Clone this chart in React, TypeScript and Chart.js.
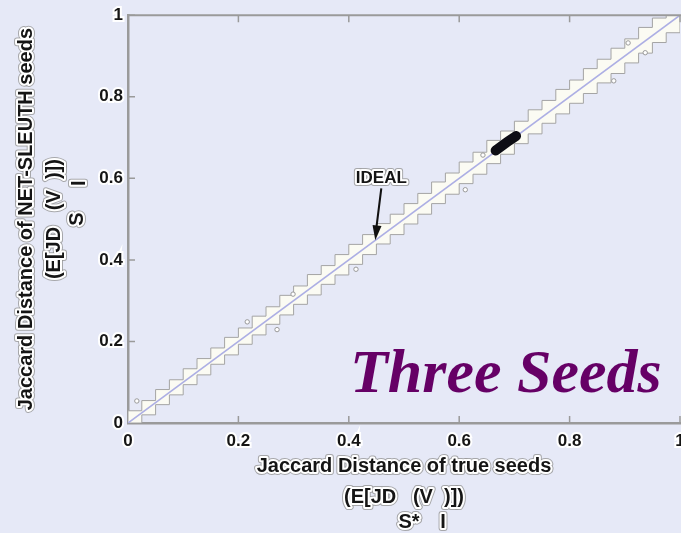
import { useEffect, useRef } from 'react';
import { Chart, registerables } from 'chart.js';

Chart.register(...registerables);

// ---- data ----
const tickLabels = ['0', '0.2', '0.4', '0.6', '0.8', '1'];

const bandX = [0, 0.025, 0.05, 0.075, 0.1, 0.125, 0.15, 0.175, 0.2, 0.225, 0.25, 0.275, 0.3, 0.325, 0.35, 0.375, 0.4, 0.425, 0.45, 0.475, 0.5, 0.525, 0.55, 0.575, 0.6, 0.625, 0.65, 0.675, 0.7, 0.725, 0.75, 0.775, 0.8, 0.825, 0.85, 0.875, 0.9, 0.925, 0.95, 0.975, 1];
const bandUpper = [0.003, 0.03, 0.055, 0.082, 0.106, 0.133, 0.158, 0.184, 0.21, 0.233, 0.262, 0.285, 0.313, 0.336, 0.364, 0.386, 0.413, 0.438, 0.462, 0.489, 0.512, 0.538, 0.563, 0.591, 0.613, 0.64, 0.664, 0.693, 0.716, 0.74, 0.768, 0.791, 0.818, 0.841, 0.869, 0.892, 0.919, 0.942, 0.97, 0.993, 1.02];
const bandLower = [0, 0.02, 0.045, 0.069, 0.094, 0.118, 0.144, 0.167, 0.193, 0.216, 0.242, 0.265, 0.291, 0.314, 0.34, 0.363, 0.389, 0.413, 0.439, 0.462, 0.488, 0.512, 0.538, 0.561, 0.587, 0.61, 0.636, 0.659, 0.685, 0.709, 0.735, 0.758, 0.784, 0.808, 0.834, 0.857, 0.883, 0.907, 0.933, 0.957, 0.983];

const idealX = [0, 1];
const idealY = [0, 1];

const clusterX = [0.666, 0.674, 0.682, 0.69, 0.698, 0.703];
const clusterY = [0.668, 0.676, 0.684, 0.692, 0.699, 0.704];

const outlierX = [0.016, 0.216, 0.27, 0.299, 0.413, 0.611, 0.643, 0.88, 0.906, 0.937];
const outlierY = [0.054, 0.248, 0.229, 0.316, 0.377, 0.572, 0.657, 0.839, 0.932, 0.908];

const xTitle = ['Jaccard Distance of true seeds', '(E[JD   (V  )])'];
const xSub = ['S*', 'I'];
const yTitle = ['Jaccard Distance of NET-SLEUTH seeds', '(E[JD   (V  )])'];
const ySub = ['S', 'I'];
const idealLabel = 'IDEAL';
const idealPoint = 0.448;
const bigTitle = 'Three Seeds';

// ---- styles ----
const BG = '#e6e9f7';
const AXIS = '#9a9a9a';
const SANS = '"Liberation Sans", Arial, sans-serif';

function haloText(ctx: CanvasRenderingContext2D, text: string, x: number, y: number) {
  ctx.lineJoin = 'round';
  ctx.strokeStyle = 'rgba(150,150,150,0.8)';
  ctx.lineWidth = 6;
  ctx.strokeText(text, x, y);
  ctx.strokeStyle = '#ffffff';
  ctx.lineWidth = 4;
  ctx.strokeText(text, x, y);
  ctx.fillStyle = '#151515';
  ctx.fillText(text, x, y);
}

const overlay = {
  id: 'overlay',
  beforeDraw(chart: any) {
    const ctx = chart.ctx;
    ctx.save();
    ctx.fillStyle = BG;
    ctx.fillRect(0, 0, chart.width, chart.height);
    ctx.restore();
  },
  afterDraw(chart: any) {
    const ctx: CanvasRenderingContext2D = chart.ctx;
    const ca = chart.chartArea;
    const xs = chart.scales.x;
    const ys = chart.scales.y;
    ctx.save();
    // top frame line
    ctx.strokeStyle = AXIS;
    ctx.lineWidth = 2;
    ctx.beginPath();
    ctx.moveTo(ca.left, ca.top);
    ctx.lineTo(ca.right + 2, ca.top);
    ctx.stroke();
    // inward tick marks
    ctx.lineWidth = 1.5;
    ctx.beginPath();
    xs.ticks.forEach((t: any) => {
      if (t.value === 0) return;
      const px = xs.getPixelForValue(t.value);
      ctx.moveTo(px, ca.bottom);
      ctx.lineTo(px, ca.bottom - 7);
      ctx.moveTo(px, ca.top);
      ctx.lineTo(px, ca.top + 7);
    });
    ys.ticks.forEach((t: any) => {
      if (t.value === 0) return;
      const py = ys.getPixelForValue(t.value);
      ctx.moveTo(ca.left, py);
      ctx.lineTo(ca.left + 7, py);
    });
    ctx.stroke();

    // axis titles
    ctx.font = `bold 20px ${SANS}`;
    ctx.textAlign = 'center';
    ctx.textBaseline = 'middle';
    const cx = (ca.left + ca.right) / 2;
    const cy = (ca.top + ca.bottom) / 2;
    haloText(ctx, xTitle[0], cx, ca.bottom + 43);
    haloText(ctx, xTitle[1], cx, ca.bottom + 74);
    haloText(ctx, xSub[0], cx + 5, ca.bottom + 99);
    haloText(ctx, xSub[1], cx + 39, ca.bottom + 99);

    ctx.save();
    ctx.translate(26, cy);
    ctx.rotate(-Math.PI / 2);
    haloText(ctx, yTitle[0], 0, 0);
    ctx.restore();
    ctx.save();
    ctx.translate(54, cy);
    ctx.rotate(-Math.PI / 2);
    haloText(ctx, yTitle[1], 0, 0);
    ctx.restore();
    ctx.save();
    ctx.translate(77, cy);
    ctx.rotate(-Math.PI / 2);
    haloText(ctx, ySub[0], 0, 0);
    haloText(ctx, ySub[1], 36, 2);
    ctx.restore();

    // IDEAL annotation
    const tipX = xs.getPixelForValue(idealPoint);
    const tipY = ys.getPixelForValue(idealPoint);
    ctx.font = `bold 17px ${SANS}`;
    haloText(ctx, idealLabel, tipX + 6, tipY - 62);
    const tailX = tipX + 6;
    const tailY = tipY - 52;
    ctx.strokeStyle = '#111';
    ctx.fillStyle = '#111';
    ctx.lineWidth = 2;
    ctx.beginPath();
    ctx.moveTo(tailX, tailY);
    ctx.lineTo(tipX + 1, tipY - 12);
    ctx.stroke();
    const ang = Math.atan2(tipY - tailY, tipX - tailX);
    ctx.beginPath();
    ctx.moveTo(tipX, tipY);
    ctx.lineTo(tipX - 15 * Math.cos(ang) + 4.5 * Math.sin(ang), tipY - 15 * Math.sin(ang) - 4.5 * Math.cos(ang));
    ctx.lineTo(tipX - 15 * Math.cos(ang) - 4.5 * Math.sin(ang), tipY - 15 * Math.sin(ang) + 4.5 * Math.cos(ang));
    ctx.closePath();
    ctx.fill();

    // big title
    ctx.font = 'italic bold 62px "Liberation Serif", "Times New Roman", serif';
    ctx.textAlign = 'left';
    ctx.textBaseline = 'alphabetic';
    ctx.fillStyle = '#660066';
    ctx.fillText(bigTitle, 350, 392);
    ctx.restore();
  },
};

export default function App() {
  const ref = useRef<HTMLCanvasElement | null>(null);
  useEffect(() => {
    if (!ref.current) return;
    const tickFont = { family: SANS, size: 17, weight: 'bold' as const };
    const chart = new Chart(ref.current, {
      type: 'line',
      data: {
        datasets: [
          {
            data: bandX.map((x, i) => ({ x, y: bandUpper[i] })),
            order: 10,
            stepped: 'after',
            borderColor: '#a4a4a4',
            borderWidth: 1,
            backgroundColor: '#fbfbf3',
            fill: '+1',
            pointRadius: 0,
          },
          {
            data: bandX.map((x, i) => ({ x, y: bandLower[i] })),
            order: 9,
            stepped: 'before',
            borderColor: '#a4a4a4',
            borderWidth: 1,
            fill: false,
            pointRadius: 0,
          },
          {
            data: idealX.map((x, i) => ({ x, y: idealY[i] })),
            order: 3,
            borderColor: '#adafe4',
            borderWidth: 1.6,
            fill: false,
            pointRadius: 0,
          },
          {
            data: outlierX.map((x, i) => ({ x, y: outlierY[i] })),
            order: 2,
            showLine: false,
            pointRadius: 2.2,
            pointBackgroundColor: '#ffffff',
            pointBorderColor: '#9a9a9a',
            pointBorderWidth: 1,
          },
          {
            data: clusterX.map((x, i) => ({ x, y: clusterY[i] })),
            order: 1,
            showLine: true,
            borderColor: '#0d0d14',
            borderWidth: 10,
            borderCapStyle: 'round',
            pointRadius: 0,
            fill: false,
          },
        ],
      },
      options: {
        animation: false,
        responsive: false,
        layout: { padding: { left: 0, top: 12, right: 40, bottom: 0 } },
        plugins: { legend: { display: false }, tooltip: { enabled: false } },
        scales: {
          x: {
            type: 'linear',
            min: 0,
            max: 1,
            grid: { display: false, drawTicks: false },
            border: { display: true, color: AXIS, width: 2.5 },
            ticks: {
              stepSize: 0.2,
              autoSkip: false,
              maxRotation: 0,
              padding: 8,
              font: tickFont,
              color: '#151515',
              textStrokeColor: '#ffffff',
              textStrokeWidth: 4,
              callback: (_v: any, i: number) => tickLabels[i],
            },
            afterFit: (s: any) => {
              s.height = 110;
            },
          },
          y: {
            type: 'linear',
            min: 0,
            max: 1,
            grid: { display: false, drawTicks: false },
            border: { display: true, color: AXIS, width: 2.5 },
            ticks: {
              stepSize: 0.2,
              autoSkip: false,
              padding: 5,
              font: tickFont,
              color: '#151515',
              textStrokeColor: '#ffffff',
              textStrokeWidth: 4,
              callback: (_v: any, i: number) => tickLabels[i],
            },
            afterFit: (s: any) => {
              s.width = 128;
            },
          },
        },
      },
      plugins: [overlay],
    } as any);
    return () => chart.destroy();
  }, []);
  return (
    <div style={{ position: 'fixed', left: 0, top: 0, width: 681, height: 533, overflow: 'hidden', background: BG }}>
      <canvas ref={ref} width={720} height={533} style={{ width: 720, height: 533, display: 'block' }} />
    </div>
  );
}
